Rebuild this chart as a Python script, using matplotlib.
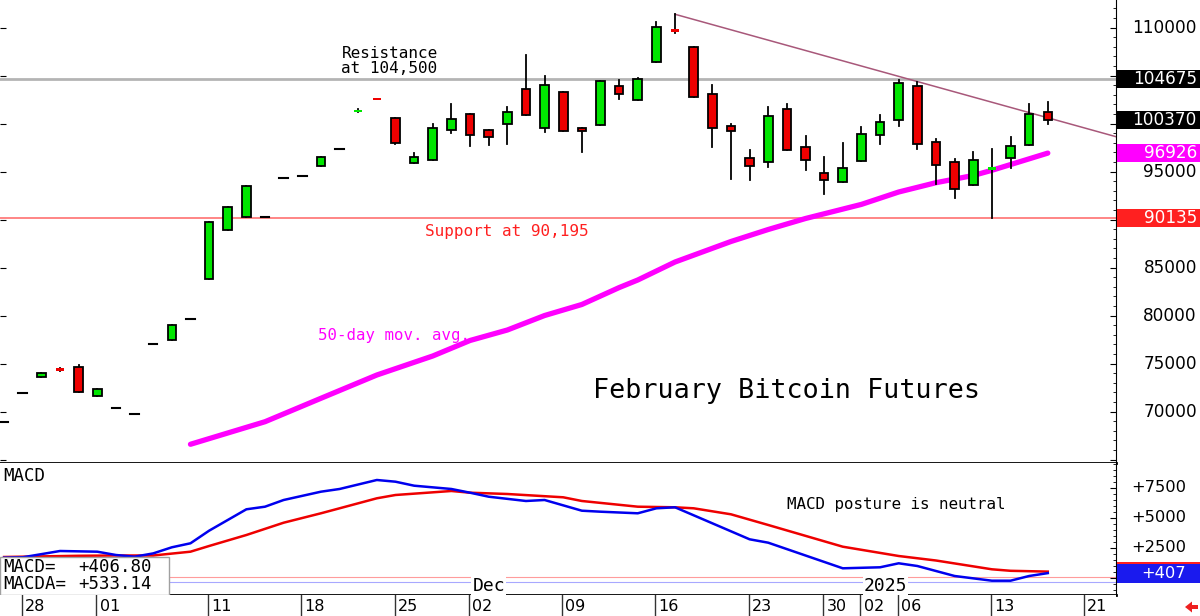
import matplotlib
matplotlib.use("Agg")
import matplotlib.pyplot as plt
from matplotlib.patches import Rectangle, FancyArrow
from matplotlib.transforms import blended_transform_factory, IdentityTransform
from matplotlib.ticker import MultipleLocator

# daily bars, Fri 25 Oct 2024 .. Thu 16 Jan 2025 (x = bar number)
opens = [68950, 71910, 73640, 74515, 74680, 71600, 70350, 69755, 77015, 77460,
         79650, 83780, 88920, 90300, 90270, 94300, 94510, 95585, 97355, 101200,
         102500, 100580, 95865, 96180, 99300, 100970, 99300, 99960, 103600, 99540,
         103260, 99510, 99885, 103885, 102425, 106445, 109780, 107975, 103080, 99750,
         96450, 95970, 101490, 97560, 94855, 93950, 96135, 98780, 100405, 103945,
         98050, 96030, 93635, 95200, 96415, 97770, 101205]
highs = [68950, 71910, 74055, 74515, 74860, 72325, 70350, 69755, 77015, 79020,
         79650, 89750, 91345, 93500, 90270, 94300, 94510, 96550, 97355, 101490,
         102500, 100580, 96885, 99925, 102040, 100970, 99300, 101700, 107145, 104990,
         103260, 99570, 104405, 104510, 104715, 110550, 111385, 107975, 103990, 99925,
         97250, 101760, 102040, 98740, 96490, 97945, 99675, 100895, 104540, 104365,
         98365, 96280, 97075, 97320, 98635, 102040, 102250]
lows = [68950, 71910, 73640, 74265, 72010, 71600, 70350, 69755, 77015, 77460,
        79650, 83780, 88920, 90300, 90270, 94300, 94510, 95585, 97355, 101200,
        102420, 97840, 95865, 96180, 98990, 97665, 97740, 97875, 100865, 99095,
        99200, 97075, 99885, 102530, 102425, 106445, 109405, 102800, 97595, 94200,
        94125, 95510, 97250, 95165, 92665, 93950, 96135, 97905, 99750, 97385,
        93675, 92220, 93635, 90135, 95405, 97770, 99990]
closes = [68950, 71910, 74055, 74265, 72010, 72325, 70350, 69755, 77015, 79020,
          79650, 89750, 91345, 93500, 90270, 94300, 94510, 96550, 97355, 101280,
          102420, 98010, 96550, 99570, 100480, 98780, 98635, 101175, 100865, 104020,
          99200, 99230, 104405, 103080, 104615, 110030, 109570, 102800, 99570, 99200,
          95585, 100820, 97250, 96175, 94155, 95345, 98885, 100135, 104195, 97845,
          95655, 93220, 96175, 95280, 97665, 101000, 100370]

# 50-day moving average
ma_bar = [10, 14, 17, 20, 23, 25, 27, 29, 31, 33, 34, 36, 39, 41, 43, 46, 48, 50, 52, 53, 56]
ma_val = [66600, 68950, 71390, 73815, 75795, 77410, 78500, 80010, 81160, 82920, 83710,
          85585, 87720, 88970, 90115, 91585, 92875, 93845, 94595, 95135, 96926]

# MACD (blue) and MACDA signal (red)
macd_bar = [0, 1, 3, 5, 6, 7, 8, 9, 10, 11, 13, 14, 15, 17, 18, 20, 21, 22, 24, 25,
            26, 28, 29, 31, 32, 34, 35, 36, 40, 41, 45, 47, 48, 49, 51, 53, 54, 55, 56]
macd_val = [1700, 1725, 2250, 2192, 1917, 1775, 2050, 2558, 2892, 3942, 5725, 5942, 6500,
            7192, 7417, 8167, 8025, 7692, 7417, 7108, 6775, 6417, 6500, 5608, 5525, 5392,
            5808, 5892, 3225, 2942, 808, 892, 1225, 1000, 167, -225, -225, 167, 406.8]
sig_bar = [0, 4, 6, 8, 10, 11, 13, 15, 17, 18, 20, 21, 24, 25, 27, 30, 31, 34, 36, 37,
           39, 41, 45, 48, 50, 53, 54, 56]
sig_val = [1750, 1850, 1875, 1875, 2192, 2667, 3583, 4608, 5392, 5808, 6642, 6917, 7250,
           7108, 7000, 6725, 6417, 5942, 5892, 5808, 5308, 4417, 2608, 1833, 1458, 725,
           600, 533.14]

resistance = 104675
support = 90135
trend_bar = [36, 59.66]
trend_val = [111385, 98635]

price_ticks = [110000, 95000, 85000, 80000, 75000, 70000]
price_boxes = [(104675, 'black'), (100370, 'black'), (96926, '#ff00ff'), (90135, '#ff2020')]
macd_ticks = [7500, 5000, 2500]

date_bars = [1, 5, 11, 16, 21, 25, 30, 35, 40, 44, 46, 48, 53, 58]
date_labels = ['28', '01', '11', '18', '25', '02', '09', '16', '23', '30', '02', '06', '13', '21']

mono = 'DejaVu Sans Mono'
num = 'DejaVu Sans'

W, H = 1200, 616
fig = plt.figure(figsize=(W / 100, H / 100), dpi=100)
fig.patch.set_facecolor('white')

ax = fig.add_axes([0, 1 - 463 / H, 1116 / W, 463 / H])
axm = fig.add_axes([0, 1 - 595 / H, 1116 / W, 132 / H])
axd = fig.add_axes([0, 0, 1116 / W, 21 / H])

xmin, xmax = -0.22, 59.66
for a in (ax, axm, axd):
    a.set_xlim(xmin, xmax)
    a.set_xticks([])
    for s in a.spines.values():
        s.set_visible(False)
axd.set_yticks([])

ymin, ymax = 64650, 112872
ax.set_ylim(ymin, ymax)

# ---- price panel
ax.axhline(resistance, color='#b4b4b4', lw=2, zorder=1)
ax.axhline(support, color='#ff6464', lw=1.1, zorder=1)
ax.plot(trend_bar, trend_val, color='#a8587a', lw=1.1, zorder=1)
ax.plot(ma_bar, ma_val, color='#ff00ff', lw=3.8, solid_capstyle='round',
        solid_joinstyle='round', zorder=1.5)

bw = 0.46
for i, (o, h, l, c) in enumerate(zip(opens, highs, lows, closes)):
    if h > l:
        ax.plot([i, i], [l, h], color='black', lw=1.3, zorder=2)
    if o == c:
        ax.plot([i - bw / 2, i + bw / 2], [o, o], color='black', lw=1.5, zorder=3)
        continue
    col = '#00e600' if c > o else '#ee0000'
    if abs(c - o) < 260:
        ax.add_patch(Rectangle((i - bw / 2, min(o, c)), bw, max(abs(c - o), 230),
                               fc=col, ec='none', zorder=3))
    else:
        ax.add_patch(Rectangle((i - bw / 2, min(o, c)), bw, abs(c - o),
                               fc=col, ec='black', lw=1.3, zorder=3))

ax.text(18.1, 104950, 'Resistance\nat 104,500', family=mono, fontsize=11.5,
        ha='left', va='bottom', linespacing=1.0)
ax.text(22.6, 88710, 'Support at 90,195', family=mono, fontsize=11.5,
        color='#ff2020', va='center')
ax.text(16.85, 77880, '50-day mov. avg.', family=mono, fontsize=11.3,
        color='#ff00ff', va='center')
ax.text(31.6, 72150, 'February Bitcoin Futures', family=mono, fontsize=19.3, va='center')

ax.spines['bottom'].set_visible(True)
ax.spines['bottom'].set_linewidth(2)
ax.spines['right'].set_visible(True)
ax.yaxis.set_major_locator(MultipleLocator(5000))
ax.yaxis.set_minor_locator(MultipleLocator(1000))
ax.tick_params(axis='y', which='both', direction='in', left=True, right=True,
               labelleft=False, labelright=False)
ax.tick_params(axis='y', which='major', length=4)
ax.tick_params(axis='y', which='minor', length=2, left=False)

tr = blended_transform_factory(fig.transFigure, ax.transData)
for v in price_ticks:
    ax.text(1197 / W, v, str(v), transform=tr, ha='right', va='center',
            family=num, fontsize=12.2, clip_on=False)
half = 9 * (ymax - ymin) / 463
for v, col in price_boxes:
    ax.add_patch(Rectangle((1117 / W, v - half), 83 / W, 2 * half, transform=tr,
                           fc=col, ec='none', clip_on=False, zorder=5))
    ax.text(1197 / W, v, str(v), transform=tr, ha='right', va='center', color='white',
            family=num, fontsize=12.2, clip_on=False, zorder=6)

# ---- MACD panel
mmin, mmax = -1417, 9583
axm.set_ylim(mmin, mmax)
axm.axhline(80, color='#ff9c9c', lw=0.8, zorder=1)
axm.axhline(-340, color='#a8a8ff', lw=0.8, zorder=1)
axm.plot(sig_bar, sig_val, color='#ee0000', lw=1.8, zorder=3)
axm.plot(macd_bar, macd_val, color='#0000ee', lw=1.8, zorder=3)

axm.text(0.003, 0.90, 'MACD', transform=axm.transAxes, family=mono, fontsize=12.5,
         va='center', ha='left')
axm.text(42.0, 6142, 'MACD posture is neutral', family=mono, fontsize=11.4, va='center')
for x, lab in [(26.0, 'Dec'), (47.3, '2025')]:
    axm.text(x, -667, lab, family=mono, fontsize=13, ha='center', va='center', zorder=4,
             bbox=dict(boxstyle='square,pad=0.05', fc='white', ec='none'))

axm.add_patch(Rectangle((0, 0), 169 / 1116, 38 / 132, transform=axm.transAxes,
                        fc='white', ec='#a0a0a0', lw=1, zorder=6))
axm.text(0.003, 0.215, 'MACD=', transform=axm.transAxes, family=mono, fontsize=12.5,
         va='center', zorder=7)
axm.text(78 / 1116, 0.215, '+406.80', transform=axm.transAxes, family=mono, fontsize=12.5,
         va='center', zorder=7)
axm.text(0.003, 0.085, 'MACDA=', transform=axm.transAxes, family=mono, fontsize=12.5,
         va='center', zorder=7)
axm.text(78 / 1116, 0.085, '+533.14', transform=axm.transAxes, family=mono, fontsize=12.5,
         va='center', zorder=7)

axm.spines['bottom'].set_visible(True)
axm.spines['bottom'].set_linewidth(2)
axm.spines['right'].set_visible(True)
axm.yaxis.set_major_locator(MultipleLocator(2500))
axm.yaxis.set_minor_locator(MultipleLocator(500))
axm.tick_params(axis='y', which='both', direction='in', left=False, right=True,
                labelleft=False, labelright=False)
axm.tick_params(axis='y', which='major', length=4)
axm.tick_params(axis='y', which='minor', length=2)

trm = blended_transform_factory(fig.transFigure, axm.transData)
for v in macd_ticks:
    axm.text(1186 / W, v, '+%d' % v, transform=trm, ha='right', va='center',
             family=num, fontsize=11.7, clip_on=False)
mhalf = 9.5 * (mmax - mmin) / 132
for v, col in [(sig_val[-1], '#ff2020'), (macd_val[-1], '#1a1aee')]:
    axm.add_patch(Rectangle((1117 / W, v - mhalf), 83 / W, 2 * mhalf, transform=trm,
                            fc=col, ec='none', clip_on=False, zorder=5))
axm.text(1186 / W, macd_val[-1], '+%d' % round(macd_val[-1]), transform=trm, ha='right',
         va='center', color='white', family=num, fontsize=11.7, clip_on=False, zorder=6)

# ---- date row
axd.set_ylim(0, 1)
for b, lab in zip(date_bars, date_labels):
    axd.axvline(b - 0.05, color='#333333', lw=1)
    axd.text(b + 0.12, 0.45, lab, family=num, fontsize=11.5, ha='left', va='center')

fig.add_artist(FancyArrow(1198, 9, -13, 0, width=4, head_width=11, head_length=7,
                          length_includes_head=True, color='#ee2020', lw=0,
                          transform=IdentityTransform()))

fig.savefig('out.png', dpi=100)
